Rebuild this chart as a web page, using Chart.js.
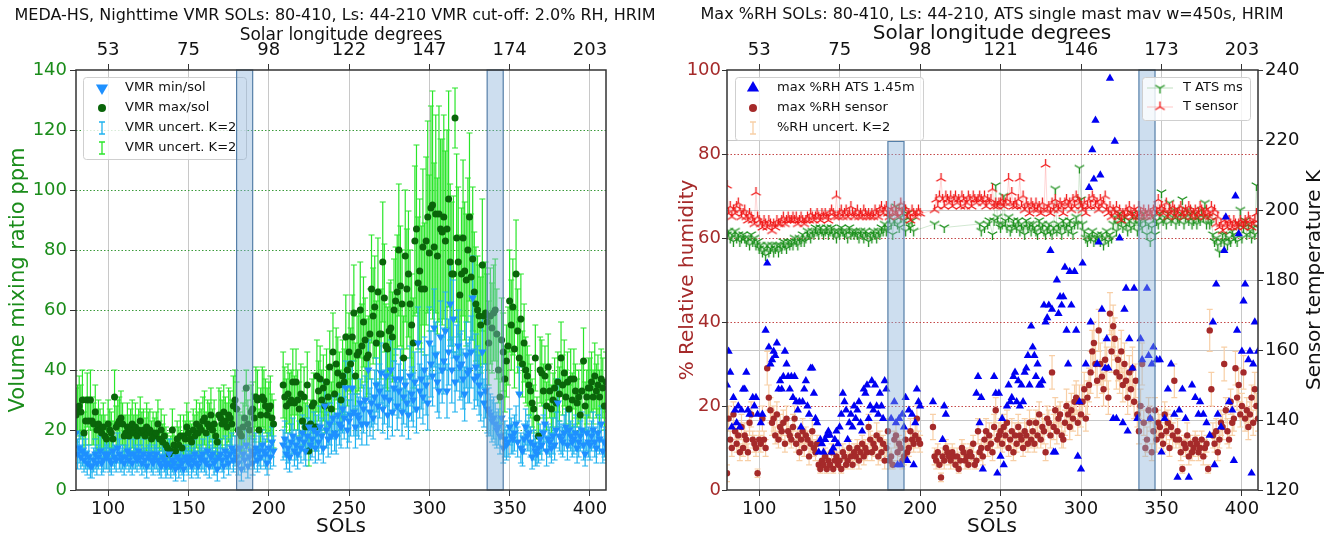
<!DOCTYPE html>
<html>
<head>
<meta charset="utf-8">
<script src="https://cdn.jsdelivr.net/npm/chart.js@4.4.1/dist/chart.umd.min.js"></script>
<style>
  html, body { margin: 0; padding: 0; background: #fff; }
  #wrap { position: relative; width: 1329px; height: 540px; }
  .box { position: absolute; top: 0; height: 540px; }
  #leftBox { left: 0; width: 664px; }
  #rightBox { left: 664px; width: 665px; }
</style>
</head>
<body>
<div id="wrap">
  <div class="box" id="leftBox"><canvas id="vmrChart"></canvas></div>
  <div class="box" id="rightBox"><canvas id="rhChart"></canvas></div>
</div>
<script>
// ---- axes / ticks ----
const firstSol = 80;
const solTicks = [100, 150, 200, 250, 300, 350, 400];
const lsTicksLeft = ['53', '75', '98', '122', '147', '174', '203'];
const lsTicksRight = ['53', '75', '98', '121', '146', '173', '203'];
const vmrTicks = [0, 20, 40, 60, 80, 100, 120, 140];
const rhTicks = [0, 20, 40, 60, 80, 100];
const tempTicks = [120, 140, 160, 180, 200, 220, 240];

// shaded sol ranges
const bandStart = [180, 336];
const bandEnd = [190, 346];
const bandTopVmr = [140, 140];
const bandTopRh = [83, 100];

// ---- left panel: VMR per sol (index 0 = sol 80) ----
const vmrMax = [
  25,27,28,26,30,19,23,30,23,30,
  23,22,26,20,22,20,19,21,18,17,
  22,20,19,17,31,21,22,23,24,22,
  18,19,21,18,20,22,19,21,18,20,
  23,19,20,18,21,19,20,17,19,18,
  19,22,17,20,16,18,15,14,12,13,
  20,15,13,17,15,18,14,18,17,21,
  19,17,16,20,18,22,19,21,20,23,
  24,19,22,21,25,20,22,18,16,25,
  24,22,26,23,21,25,24,22,28,30,
  27,20,19,18,21,24,34,22,20,26,
  27,24,31,30,20,25,31,30,28,25,
  27,28,24,22,null,null,null,null,null,35,
  31,28,32,29,30,36,29,36,30,27,
  32,23,31,21,35,13,22,28,29,21,
  38,33,37,30,34,28,36,31,41,27,
  46,32,42,39,35,30,38,36,51,40,
  46,42,51,59,38,45,46,60,48,56,
  50,44,45,52,67,58,61,49,66,52,
  52,76,64,48,47,53,54,51,60,63,
  66,80,68,62,44,78,67,72,62,55,
  49,83,87,69,73,67,81,67,83,91,
  79,94,95,81,92,78,92,87,86,91,
  83,87,97,76,72,72,124,84,76,65,
  72,84,73,70,80,91,71,77,66,62,
  60,58,55,75,58,59,56,49,58,54,
  59,60,52,40,31,50,46,37,43,48,
  63,55,61,47,72,53,44,57,42,49,
  40,38,35,33,29,27,44,24,18,40,
  39,33,38,28,41,33,27,30,34,29,
  36,32,44,35,39,31,36,27,37,30,
  37,33,29,31,25,33,43,28,31,34,
  34,36,31,38,33,35,31,37,34,28,
  36
];
const vmrMaxErr = [
  9,8,10,9,10,7,8,9,8,10,
  8,7,9,7,8,7,6,8,7,6,
  8,7,7,6,9,7,8,8,9,7,
  7,6,8,7,7,8,6,8,7,7,
  8,7,7,6,8,7,7,6,7,6,
  7,8,6,7,6,7,6,5,5,5,
  7,6,5,6,6,7,5,7,6,8,
  7,6,6,7,7,8,7,8,7,8,
  9,7,8,8,9,7,8,7,6,9,
  9,8,9,8,8,9,9,8,10,10,
  9,7,7,7,8,9,6,8,7,9,
  9,8,10,10,7,9,10,10,9,9,
  9,10,8,8,null,null,null,null,null,11,
  10,9,10,10,10,11,9,11,10,9,
  10,8,10,8,11,5,8,9,10,8,
  12,10,11,10,11,9,11,10,12,9,
  13,10,12,12,11,10,12,11,14,12,
  13,12,14,16,11,13,13,16,14,15,
  14,13,13,15,18,16,17,14,18,15,
  15,20,18,14,14,16,16,15,17,18,
  19,22,20,18,14,22,20,21,18,17,
  15,25,28,22,24,21,26,22,28,32,
  26,34,38,28,33,26,36,30,31,34,
  30,33,36,26,24,26,10,28,25,20,
  22,26,23,22,24,28,21,24,20,19,
  18,17,16,22,16,17,16,14,16,15,
  16,17,15,11,9,14,13,11,12,13,
  17,15,16,13,18,14,12,15,11,13,
  11,10,10,9,8,8,11,7,6,11,
  11,9,10,8,11,9,8,9,10,8,
  10,9,12,10,11,9,10,8,10,9,
  10,9,8,9,7,9,11,8,9,10,
  10,10,9,11,9,10,9,10,10,8,
  10
];
const vmrMin = [
  19,12,14,11,13,10,12,9,11,8,
  8,10,12,9,11,13,9,10,12,11,
  12,10,9,13,11,10,14,12,10,11,
  9,11,13,10,12,9,12,11,10,13,
  11,9,12,10,8,11,12,10,9,11,
  12,10,9,8,11,10,8,9,12,8,
  10,9,7,11,8,10,9,7,11,10,
  9,11,8,10,12,9,8,11,10,12,
  10,9,13,8,11,12,9,10,7,11,
  12,10,8,13,11,9,12,14,10,13,
  11,9,14,7,12,10,15,8,11,13,
  9,12,14,10,13,11,15,13,12,9,
  14,11,16,13,null,null,null,null,null,15,
  17,12,14,11,16,18,13,15,12,17,
  14,19,16,13,18,21,15,17,20,14,
  19,16,21,18,14,28,20,17,22,18,
  24,19,18,25,22,21,27,24,34,20,
  23,25,34,26,21,25,24,29,22,27,
  30,22,40,26,29,24,31,35,28,33,
  39,27,31,38,25,30,40,26,34,37,
  28,33,37,26,31,35,29,25,38,32,
  30,36,27,49,33,37,31,40,35,29,
  49,42,38,54,45,36,33,51,40,43,
  53,33,46,62,40,57,36,44,48,41,
  42,37,32,45,39,40,46,64,37,41,
  38,35,32,46,29,33,27,26,25,23,
  24,22,20,21,18,24,14,17,15,16,
  21,18,17,19,22,16,32,14,13,17,
  21,18,19,16,11,15,13,12,14,17,
  15,19,22,13,17,16,14,18,15,20,
  29,18,17,16,19,21,15,20,18,16,
  17,19,14,16,18,20,15,12,19,16,
  15,18,20,16,14,19,17,22,13,16,
  15
];
const vmrMinErr = [
  6,5,5,4,5,4,5,4,4,4,
  4,4,5,4,4,5,4,4,5,4,
  5,4,4,5,4,4,5,5,4,4,
  4,4,5,4,5,4,5,4,4,5,
  4,4,5,4,4,4,5,4,4,4,
  5,4,4,4,4,4,4,4,5,4,
  4,4,4,4,4,4,4,4,4,4,
  4,4,4,4,5,4,4,4,4,5,
  4,4,5,4,4,5,4,4,4,4,
  5,4,4,5,4,4,5,5,4,5,
  4,4,5,4,5,4,5,4,4,5,
  4,5,5,4,5,4,5,5,5,4,
  5,4,5,5,null,null,null,null,null,5,
  6,5,5,5,6,6,5,5,5,6,
  5,6,6,5,6,7,5,6,6,5,
  6,6,7,6,5,8,6,6,7,6,
  7,6,6,7,7,7,8,7,9,6,
  7,7,9,8,7,7,7,8,7,8,
  8,7,10,8,8,7,9,9,8,9,
  10,8,9,10,8,9,10,8,9,10,
  8,9,10,8,9,9,8,8,10,9,
  9,10,8,12,9,10,9,11,10,9,
  12,11,10,13,11,10,9,12,11,11,
  13,9,11,14,11,13,10,11,12,11,
  11,10,9,11,10,11,12,14,10,11,
  10,10,9,12,8,9,8,8,7,7,
  7,7,6,6,6,7,5,6,5,5,
  6,6,5,6,6,5,9,5,5,5,
  6,5,6,5,4,5,5,4,5,5,
  5,6,6,5,5,5,5,6,5,6,
  8,5,5,5,6,6,5,6,5,5,
  5,6,5,5,5,6,5,4,6,5,
  5,5,6,5,5,6,5,6,4,5,
  5
];

// ---- right panel ----
// max %RH from ATS (sols where a value exists)
const atsSols = [
  80,81,82,83,84,85,86,87,88,89,
  90,91,92,93,94,96,97,98,99,
  101,102,104,105,106,107,108,109,
  110,111,112,113,114,115,116,117,118,119,
  120,121,122,123,124,125,126,127,128,129,
  130,131,132,133,134,135,136,137,138,139,
  140,141,142,143,144,145,146,147,148,149,
  150,151,152,153,154,155,156,157,158,159,
  160,161,162,163,164,165,166,167,168,169,
  170,171,172,173,174,175,176,177,178,179,
  182,184,185,186,187,188,189,
  190,191,192,193,195,196,197,198,199,200,
  208,214,215,216,
  235,236,237,238,239,
  246,247,248,249,250,251,252,254,255,256,257,258,259,
  260,261,262,263,264,265,266,267,268,269,
  270,271,272,273,274,275,276,277,278,279,
  280,281,282,283,284,285,286,287,288,289,
  290,291,292,293,294,296,297,298,299,
  300,301,303,305,306,307,308,309,310,
  311,312,313,315,316,317,318,320,321,322,324,326,327,328,329,
  330,332,333,335,337,338,341,342,343,344,345,
  347,349,350,352,354,356,358,360,361,363,365,367,369,371,373,374,376,378,380,
  382,383,384,385,387,389,390,392,394,395,396,397,398,400,401,402,404,405,406,407,408,410
];
const atsRh = [
  25,33,28,15,22,19,16,20,15,19,
  24,24,28,19,18,22,20,22,18,
  16,18,38,54,34,30,31,33,
  32,35,24,26,24,27,33,30,27,24,
  27,22,27,21,19,21,15,21,24,26,
  20,18,29,29,23,17,16,9,12,11,
  9,12,13,14,13,9,10,12,14,11,
  15,18,23,21,19,12,16,18,15,20,
  17,19,21,16,14,24,23,25,17,20,
  26,19,25,20,18,23,20,17,26,24,
  17,21,16,6,17,6,18,
  15,22,7,19,18,6,16,24,21,20,
  21,12,20,18,
  23,27,16,22,5,
  27,23,4,23,8,17,6,20,25,21,22,27,28,
  21,26,20,25,21,28,29,32,25,39,
  34,32,27,30,25,25,26,44,40,41,
  44,57,43,9,9,50,42,46,44,46,
  53,38,30,52,44,52,38,8,21,
  5,54,30,72,40,81,74,88,30,
  59,75,43,29,36,29,98,17,83,17,60,16,43,48,14,
  36,29,48,17,36,31,48,32,17,30,34,
  31,31,9,17,24,30,18,3,19,24,17,3,25,22,18,21,18,16,13,
  40,6,49,18,15,57,65,21,19,7,70,38,61,33,45,49,31,33,4,30,40,33
];
// max %RH sensor per sol (index 0 = sol 80)
const rhSensor = [
  4,17,12,10,18,14,11,13,9,15,
  10,13,12,9,16,18,12,11,10,4,
  12,11,17,12,10,29,22,19,16,17,
  13,18,12,15,14,16,11,17,14,13,
  12,15,17,11,13,9,12,14,10,13,
  12,8,11,14,10,9,11,6,5,7,
  6,8,5,7,6,9,5,7,8,6,
  7,5,9,8,6,7,10,8,6,9,
  8,10,7,9,11,8,10,9,15,12,
  9,11,10,13,8,12,9,11,7,10,
  14,7,8,6,12,13,9,11,10,7,
  8,12,9,10,14,12,11,13,17,12,
  11,null,null,null,null,null,null,null,15,8,
  7,9,6,3,8,7,10,9,8,7,
  9,8,6,8,5,7,10,9,7,8,
  6,9,8,11,6,7,14,9,10,8,
  12,14,10,13,11,9,15,19,12,13,
  14,11,15,13,16,10,12,14,9,13,
  11,15,13,12,10,14,13,11,16,12,
  14,11,16,13,18,12,15,14,9,17,
  16,13,28,15,19,14,17,18,13,12,
  16,20,18,15,19,17,21,22,16,21,
  18,21,24,17,22,25,28,33,35,30,
  26,38,30,27,24,31,29,22,42,33,
  39,36,28,31,27,33,25,30,26,22,
  28,24,29,21,26,18,14,20,30,16,
  10,12,19,17,9,14,19,12,16,15,
  13,11,18,14,16,10,15,13,26,12,
  14,12,9,5,11,10,13,8,11,9,
  10,12,11,9,10,12,8,10,11,5,
  38,24,13,11,14,9,12,16,15,30,
  19,14,12,21,16,17,29,22,25,18,
  20,28,17,19,15,18,22,16,24,20,
  17
];
const rhSensorErr = [
  2,3,2,2,3,2,2,3,2,3,
  2,3,2,2,3,3,2,2,2,1,
  2,2,3,2,2,4,3,3,3,3,
  2,3,2,3,2,3,2,3,3,2,
  2,3,3,2,2,2,2,3,2,2,
  2,2,2,3,2,2,2,1,1,2,
  1,2,1,2,1,2,1,2,2,1,
  2,1,2,2,1,2,2,2,1,2,
  2,2,2,2,2,2,2,2,3,2,
  2,2,2,3,2,2,2,2,2,2,
  3,2,2,1,2,3,2,2,2,2,
  2,2,2,2,3,2,2,3,3,2,
  2,null,null,null,null,null,null,null,3,2,
  2,2,1,1,2,2,2,2,2,2,
  2,2,1,2,1,2,2,2,2,2,
  1,2,2,2,1,2,3,2,2,2,
  2,3,2,3,2,2,3,3,2,3,
  3,2,3,3,3,2,2,3,2,3,
  2,3,3,2,2,3,3,2,3,2,
  3,2,3,3,3,2,3,3,2,3,
  3,3,4,3,3,3,3,3,3,2,
  3,4,3,3,4,3,4,4,3,4,
  3,4,4,3,4,4,5,5,5,5,
  4,5,5,4,4,5,5,4,5,5,
  5,5,4,5,4,5,4,5,4,4,
  4,4,5,4,4,3,3,4,5,3,
  2,3,3,3,2,3,3,3,3,3,
  3,2,3,3,3,2,3,3,4,2,
  3,2,2,1,2,2,3,2,2,2,
  2,2,2,2,2,2,2,2,2,1,
  5,4,3,2,3,2,2,3,3,4,
  3,3,2,3,3,3,4,3,4,3,
  3,4,3,3,3,3,3,3,4,3,
  3
];
// temperatures K per sol (index 0 = sol 80)
const tSensor = [
  207,199,201,198,200,199,201,202,200,198,
  199,200,198,197,199,198,197,196,205,198,
  197,196,195,197,196,195,197,196,194,196,
  195,197,196,196,197,198,196,197,198,197,
  197,198,197,198,196,197,198,197,196,197,
  198,197,199,198,197,198,199,198,197,199,
  198,199,198,197,199,200,199,198,204,198,
  199,200,198,199,200,198,199,201,199,198,
  199,200,198,199,198,200,199,198,199,198,
  199,198,200,199,198,200,201,199,200,201,
  199,198,200,199,201,199,198,200,202,199,
  201,200,198,199,197,200,199,198,199,200,
  199,null,null,null,null,null,null,null,null,200,
  203,201,204,209,203,201,204,203,202,204,
  201,203,204,202,203,201,204,203,201,202,
  204,203,201,204,203,202,203,204,203,202,
  204,201,203,202,203,206,201,202,201,202,
  202,203,201,202,203,209,202,205,201,202,
  201,203,209,201,204,200,202,201,199,202,
  201,200,202,200,201,199,202,200,213,200,
  201,199,202,200,203,201,200,202,201,199,
  202,203,201,202,200,203,201,204,203,202,
  201,200,202,199,201,203,201,204,203,201,
  202,200,203,201,202,204,200,199,201,198,
  200,199,201,198,200,197,199,198,200,199,
  201,199,198,200,199,198,201,199,198,200,
  199,198,200,199,198,200,201,199,203,200,
  201,199,200,202,198,200,199,201,200,198,
  199,200,201,199,198,200,199,201,200,198,
  199,200,198,199,201,200,199,198,200,199,
  198,201,199,200,196,198,195,196,194,197,
  196,195,197,196,195,197,196,195,196,197,
  196,195,197,196,198,197,195,196,197,199,
  197
];
const tAts = [
  193,194,192,193,191,194,192,193,191,192,
  193,192,191,192,190,193,191,192,190,191,
  189,190,188,189,187,190,188,189,190,188,
  189,190,188,190,189,191,190,189,191,190,
  191,190,192,191,190,192,191,193,191,192,
  194,193,192,194,193,195,194,193,195,194,
  193,194,195,193,194,195,193,194,192,194,
  193,195,194,193,194,192,195,193,194,193,
  194,193,192,194,193,192,194,193,191,193,
  192,194,193,192,194,193,195,194,196,194,
  195,198,196,193,197,201,196,195,198,200,
  197,194,199,196,195,197,194,null,null,null,
  null,null,null,null,null,null,null,null,null,196,
  null,null,null,null,null,195,null,null,null,null,
  null,null,null,null,null,null,null,null,null,null,
  null,null,null,null,null,null,null,196,194,null,
  195,null,196,197,null,193,197,207,198,196,
  195,196,204,197,195,198,194,195,197,196,
  195,197,194,196,195,193,197,195,196,194,
  196,195,194,193,197,195,196,194,193,195,
  196,194,193,195,206,194,196,195,193,197,
  195,196,194,197,195,193,196,198,196,212,
  203,196,194,192,191,193,192,194,191,192,
  193,192,191,193,190,192,194,191,193,192,
  196,198,194,196,199,197,195,198,196,194,
  197,195,199,196,198,194,196,197,195,199,
  197,193,196,191,195,198,193,197,196,199,
  205,197,198,196,199,202,197,198,200,196,
  198,197,199,203,196,198,200,197,199,196,
  197,199,196,198,197,200,198,202,196,198,
  196,197,193,191,192,190,188,191,193,191,
  193,190,192,191,194,193,192,191,196,200,
  192,195,197,193,196,194,192,195,193,207,
  195
];

// ---- helpers ----
const FONT = "'DejaVu Sans', sans-serif";
Chart.defaults.font.family = FONT;
Chart.defaults.color = '#111';

function bySol(vals, errs) {
  const pts = [];
  vals.forEach((v, i) => {
    if (v !== null) pts.push({ x: firstSol + i, y: v, e: errs ? errs[i] : 0 });
  });
  return pts;
}

function fixedTicks(values) {
  return scale => { scale.ticks = values.map(v => ({ value: v })); };
}

function triImage(color, down) {
  const c = document.createElement('canvas');
  c.width = 13; c.height = 13;
  const g = c.getContext('2d');
  g.strokeStyle = color;
  g.lineWidth = 1.3;
  const arms = down ? [90, 210, 330] : [270, 30, 150];
  g.beginPath();
  arms.forEach(a => {
    const r = a * Math.PI / 180;
    g.moveTo(6.5, 6.5);
    g.lineTo(6.5 + 5.5 * Math.cos(r), 6.5 + 5.5 * Math.sin(r));
  });
  g.stroke();
  return c;
}
const triDownGreen = triImage('#1a8f1a', true);
const triUpRed = triImage('#f01818', false);

// legend icons
function iconTri(color, down, r) {
  return (ctx, x, y) => {
    ctx.fillStyle = color;
    ctx.beginPath();
    if (down) { ctx.moveTo(x - r * 0.87, y - r * 0.5); ctx.lineTo(x + r * 0.87, y - r * 0.5); ctx.lineTo(x, y + r); }
    else { ctx.moveTo(x - r * 0.87, y + r * 0.5); ctx.lineTo(x + r * 0.87, y + r * 0.5); ctx.lineTo(x, y - r); }
    ctx.closePath();
    ctx.fill();
  };
}
function iconDot(color, r) {
  return (ctx, x, y) => {
    ctx.fillStyle = color;
    ctx.beginPath(); ctx.arc(x, y, r, 0, Math.PI * 2); ctx.fill();
  };
}
function iconErr(color) {
  return (ctx, x, y) => {
    ctx.strokeStyle = color; ctx.lineWidth = 1.3;
    ctx.beginPath();
    ctx.moveTo(x, y - 6); ctx.lineTo(x, y + 6);
    ctx.moveTo(x - 3, y - 6); ctx.lineTo(x + 3, y - 6);
    ctx.moveTo(x - 3, y + 6); ctx.lineTo(x + 3, y + 6);
    ctx.stroke();
  };
}
function iconLineTri(img, lineColor) {
  return (ctx, x, y) => {
    ctx.strokeStyle = lineColor; ctx.lineWidth = 1;
    ctx.beginPath(); ctx.moveTo(x - 13, y); ctx.lineTo(x + 13, y); ctx.stroke();
    ctx.drawImage(img, x - 6.5, y - 6.5);
  };
}

function drawLegend(ctx, lg) {
  ctx.save();
  ctx.fillStyle = 'rgba(255,255,255,0.8)';
  ctx.strokeStyle = '#cfcfcf';
  ctx.lineWidth = 1;
  ctx.beginPath();
  ctx.roundRect(lg.x + 0.5, lg.y + 0.5, lg.w, lg.h, 3);
  ctx.fill(); ctx.stroke();
  lg.rows.forEach(r => {
    r.icon(ctx, lg.iconX, r.y);
    ctx.fillStyle = '#111';
    ctx.font = '13px ' + FONT;
    ctx.textAlign = 'left';
    ctx.textBaseline = 'middle';
    ctx.fillText(r.label, lg.textX, r.y);
  });
  ctx.restore();
}

function drawText(ctx, t) {
  ctx.save();
  ctx.font = t.size + 'px ' + FONT;
  ctx.fillStyle = t.color || '#111';
  ctx.textAlign = 'center';
  ctx.textBaseline = 'middle';
  ctx.translate(t.x, t.y);
  if (t.rotate) ctx.rotate(-Math.PI / 2);
  ctx.fillText(t.text, 0, 0);
  ctx.restore();
}

function errorBarPlugin(sets) {
  return {
    id: 'errorBars',
    beforeDatasetsDraw(chart) {
      const { ctx, chartArea: a, scales } = chart;
      ctx.save();
      ctx.beginPath();
      ctx.rect(a.left, a.top, a.right - a.left, a.bottom - a.top);
      ctx.clip();
      sets.forEach(s => {
        const ys = scales[s.axis];
        ctx.strokeStyle = s.color;
        ctx.lineWidth = 1.2;
        ctx.beginPath();
        s.points.forEach(p => {
          const x = scales.x.getPixelForValue(p.x);
          const y1 = ys.getPixelForValue(p.y - p.e);
          const y2 = ys.getPixelForValue(p.y + p.e);
          ctx.moveTo(x, y1); ctx.lineTo(x, y2);
          ctx.moveTo(x - 3, y1); ctx.lineTo(x + 3, y1);
          ctx.moveTo(x - 3, y2); ctx.lineTo(x + 3, y2);
        });
        ctx.stroke();
      });
      ctx.restore();
    }
  };
}

function decorPlugin(opt) {
  function drawBands(chart) {
    const { ctx, scales } = chart;
    const ys = scales[opt.bandAxis];
    ctx.save();
    bandStart.forEach((s, i) => {
      const x1 = scales.x.getPixelForValue(s);
      const x2 = scales.x.getPixelForValue(bandEnd[i]);
      const yTop = ys.getPixelForValue(opt.bandTop[i]);
      const yBot = ys.getPixelForValue(ys.min);
      ctx.fillStyle = 'rgba(135,177,217,0.42)';
      ctx.fillRect(x1, yTop, x2 - x1, yBot - yTop);
      ctx.strokeStyle = '#557fa8';
      ctx.lineWidth = 1.2;
      ctx.strokeRect(x1, yTop, x2 - x1, yBot - yTop);
    });
    ctx.restore();
  }
  return {
    id: 'decor',
    afterDatasetsDraw(chart) {
      if (opt.bandsOverLegend) {
        opt.legends.forEach(l => drawLegend(chart.ctx, l));
        drawBands(chart);
      } else {
        drawBands(chart);
        opt.legends.forEach(l => drawLegend(chart.ctx, l));
      }
    },
    afterDraw(chart) {
      const { ctx, chartArea: a } = chart;
      ctx.save();
      ctx.strokeStyle = '#333';
      ctx.lineWidth = 1.5;
      ctx.strokeRect(a.left, a.top, a.right - a.left, a.bottom - a.top);
      ctx.restore();
      opt.texts.forEach(t => drawText(ctx, t));
    }
  };
}

function xScales(lsLabels) {
  return {
    x: {
      type: 'linear', axis: 'x', position: 'bottom', min: 80, max: 410,
      afterBuildTicks: fixedTicks(solTicks),
      afterFit: s => { s.height = 50; },
      grid: { color: '#c8c8c8', lineWidth: 1, tickColor: '#333', tickLength: 6 },
      border: { display: false },
      ticks: { font: { size: 18 }, color: '#111', padding: 3, maxRotation: 0, autoSkip: false }
    },
    xTop: {
      type: 'linear', axis: 'x', position: 'top', min: 80, max: 410,
      afterBuildTicks: fixedTicks(solTicks),
      afterFit: s => { s.height = 70; },
      grid: { drawOnChartArea: false, color: '#333', tickColor: '#333', tickLength: 6 },
      border: { display: false },
      ticks: { callback: (v, i) => lsLabels[i], font: { size: 18 }, color: '#111', padding: 3, maxRotation: 0, autoSkip: false }
    }
  };
}

// ---- left chart ----
const maxPts = bySol(vmrMax, vmrMaxErr);
const minPts = bySol(vmrMin, vmrMinErr);
const VMR_GREEN = '#1a8c1a';

new Chart(document.getElementById('vmrChart'), {
  type: 'scatter',
  data: {
    datasets: [
      { label: 'VMR min/sol', data: minPts, pointStyle: 'triangle', rotation: 180, pointRadius: 4.8,
        backgroundColor: '#1e90ff', borderColor: '#1e90ff', pointBorderWidth: 0 },
      { label: 'VMR max/sol', data: maxPts, pointStyle: 'circle', pointRadius: 3.5,
        backgroundColor: '#0a650a', borderColor: '#0a650a', pointBorderWidth: 0 }
    ]
  },
  options: {
    responsive: true, maintainAspectRatio: false, animation: false, events: [],
    layout: { padding: { left: 0, right: 58, top: 0, bottom: 0 } },
    plugins: { legend: { display: false }, tooltip: { enabled: false } },
    scales: Object.assign(xScales(lsTicksLeft), {
      y: {
        type: 'linear', position: 'left', min: 0, max: 140,
        afterBuildTicks: fixedTicks(vmrTicks),
        afterFit: s => { s.width = 76; },
        grid: {
          color: c => (c.tick && c.tick.value > 0 && c.tick.value < 140) ? '#3a9a3a' : 'rgba(0,0,0,0)',
          lineWidth: 1, tickColor: '#333', tickLength: 6
        },
        border: { display: false, dash: [1.5, 2] },
        ticks: { font: { size: 18 }, color: VMR_GREEN, padding: 3 }
      }
    })
  },
  plugins: [
    errorBarPlugin([
      { axis: 'y', points: maxPts, color: '#2ae62a' },
      { axis: 'y', points: minPts, color: '#1fb2ef' }
    ]),
    decorPlugin({
      bandAxis: 'y', bandTop: bandTopVmr, bandsOverLegend: true,
      legends: [{
        x: 83, y: 77, w: 163, h: 82, iconX: 102, textX: 125,
        rows: [
          { y: 88, label: 'VMR min/sol', icon: iconTri('#1e90ff', true, 7) },
          { y: 108, label: 'VMR max/sol', icon: iconDot('#0a650a', 4) },
          { y: 128, label: 'VMR uncert. K=2', icon: iconErr('#1fb2ef') },
          { y: 148, label: 'VMR uncert. K=2', icon: iconErr('#2ae62a') }
        ]
      }],
      texts: [
        { text: 'MEDA-HS, Nighttime VMR SOLs: 80-410, Ls: 44-210 VMR cut-off: 2.0% RH, HRIM', x: 335, y: 16, size: 16 },
        { text: 'Solar longitude degrees', x: 341, y: 36, size: 17 },
        { text: 'Volume mixing ratio ppm', x: 19, y: 280, size: 21, color: VMR_GREEN, rotate: true },
        { text: 'SOLs', x: 341, y: 527, size: 20 }
      ]
    })
  ]
});

// ---- right chart ----
const BROWN = '#a52a2a';
const atsPts = atsSols.map((s, i) => ({ x: s, y: atsRh[i] }));
const sensorPts = bySol(rhSensor, rhSensorErr);
const tSensorPts = bySol(tSensor);
const tAtsPts = bySol(tAts);

new Chart(document.getElementById('rhChart'), {
  type: 'scatter',
  data: {
    datasets: [
      { label: 'max %RH ATS 1.45m', data: atsPts, yAxisID: 'yRH', pointStyle: 'triangle', pointRadius: 4.8,
        backgroundColor: '#0000f2', borderColor: '#0000f2', pointBorderWidth: 0 },
      { label: 'max %RH sensor', data: sensorPts, yAxisID: 'yRH', pointStyle: 'circle', pointRadius: 3.2,
        backgroundColor: BROWN, borderColor: BROWN, pointBorderWidth: 0 },
      { label: 'T sensor', data: tSensorPts, yAxisID: 'yT', showLine: true, spanGaps: true,
        borderColor: 'rgba(255,0,0,0.16)', borderWidth: 1, pointStyle: triUpRed, pointRadius: 5 },
      { label: 'T ATS ms', data: tAtsPts, yAxisID: 'yT', showLine: true, spanGaps: true,
        borderColor: 'rgba(0,128,0,0.18)', borderWidth: 1, pointStyle: triDownGreen, pointRadius: 5 }
    ]
  },
  options: {
    responsive: true, maintainAspectRatio: false, animation: false, events: [],
    layout: { padding: 0 },
    plugins: { legend: { display: false }, tooltip: { enabled: false } },
    scales: Object.assign(xScales(lsTicksRight), {
      yRH: {
        type: 'linear', axis: 'y', position: 'left', min: 0, max: 100,
        afterBuildTicks: fixedTicks(rhTicks),
        afterFit: s => { s.width = 63; },
        grid: {
          color: c => (c.tick && c.tick.value > 0 && c.tick.value < 100) ? '#c44848' : 'rgba(0,0,0,0)',
          lineWidth: 1, tickColor: '#333', tickLength: 5
        },
        border: { display: false, dash: [1.5, 2] },
        ticks: { font: { size: 18 }, color: BROWN, padding: 1 }
      },
      yT: {
        type: 'linear', axis: 'y', position: 'right', min: 120, max: 240,
        afterBuildTicks: fixedTicks(tempTicks),
        afterFit: s => { s.width = 71; },
        grid: {
          color: c => (c.tick && c.tick.value > 120 && c.tick.value < 240) ? '#c8c8c8' : 'rgba(0,0,0,0)',
          lineWidth: 1, tickColor: '#333', tickLength: 5
        },
        border: { display: false },
        ticks: { font: { size: 18 }, color: '#111', padding: 2 }
      }
    })
  },
  plugins: [
    errorBarPlugin([{ axis: 'yRH', points: sensorPts, color: '#f8cfa6' }]),
    decorPlugin({
      bandAxis: 'yRH', bandTop: bandTopRh, bandsOverLegend: false,
      legends: [
        {
          x: 71, y: 77, w: 188, h: 63, iconX: 89, textX: 113,
          rows: [
            { y: 88, label: 'max %RH ATS 1.45m', icon: iconTri('#0000f2', false, 7) },
            { y: 108, label: 'max %RH sensor', icon: iconDot(BROWN, 4) },
            { y: 128, label: '%RH uncert. K=2', icon: iconErr('#f8cfa6') }
          ]
        },
        {
          x: 478, y: 77, w: 108, h: 43, iconX: 496, textX: 519,
          rows: [
            { y: 88, label: 'T ATS ms', icon: iconLineTri(triDownGreen, 'rgba(0,128,0,0.25)') },
            { y: 107, label: 'T sensor', icon: iconLineTri(triUpRed, 'rgba(255,0,0,0.22)') }
          ]
        }
      ],
      texts: [
        { text: 'Max %RH SOLs: 80-410, Ls: 44-210, ATS single mast mav w=450s, HRIM', x: 328, y: 15, size: 16 },
        { text: 'Solar longitude degrees', x: 328, y: 34, size: 20 },
        { text: '% Relative humidity', x: 24, y: 280, size: 20, color: BROWN, rotate: true },
        { text: 'Sensor temperature K', x: 651, y: 280, size: 20, rotate: true },
        { text: 'SOLs', x: 328, y: 527, size: 20 }
      ]
    })
  ]
});
</script>
</body>
</html>
